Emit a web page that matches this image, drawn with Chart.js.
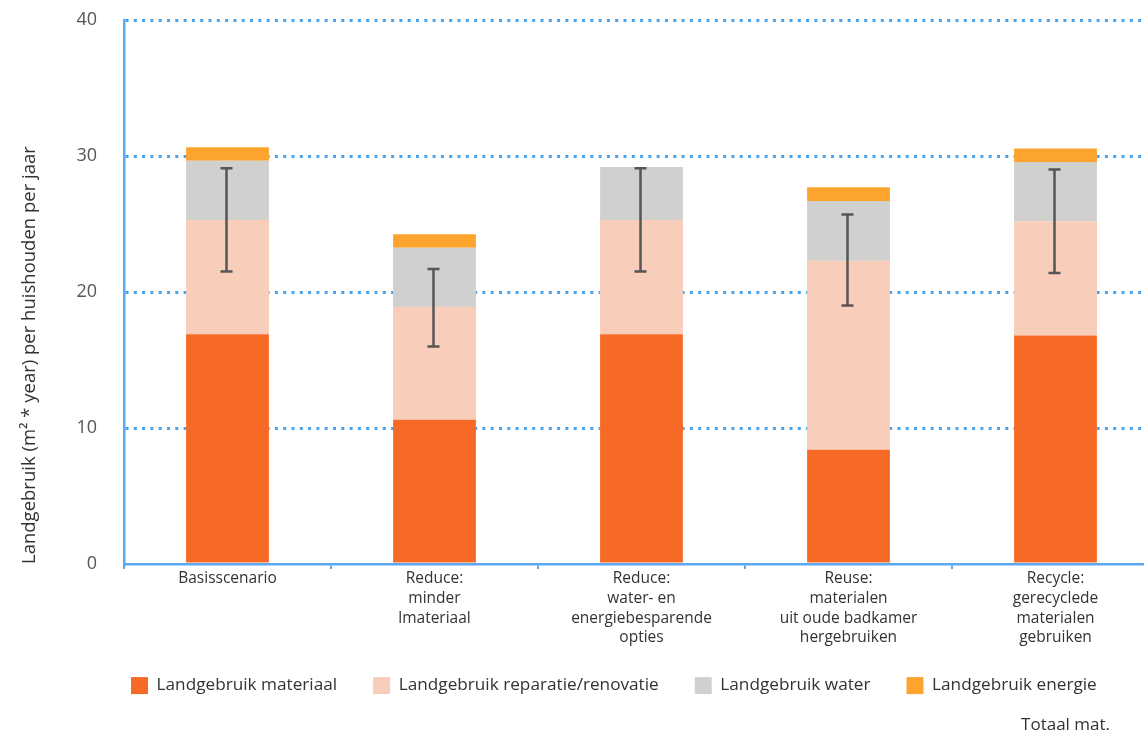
<!DOCTYPE html>
<html><head><meta charset="utf-8">
<script src="https://cdn.jsdelivr.net/npm/chart.js@4/dist/chart.umd.min.js"></script>
<style>
html,body{margin:0;padding:0;overflow:hidden;background:#fff;}
#wrap{position:relative;width:1159px;height:735px;}
</style></head><body>
<div id="wrap"><canvas id="c"></canvas></div>
<script>
const categories = [
  ['Basisscenario'],
  ['Reduce:', 'minder', 'lmateriaal'],
  ['Reduce:', 'water- en', 'energiebesparende', 'opties'],
  ['Reuse:', 'materialen', 'uit oude badkamer', 'hergebruiken'],
  ['Recycle:', 'gerecyclede', 'materialen', 'gebruiken']
];
const seriesNames = ['Landgebruik materiaal', 'Landgebruik reparatie/renovatie', 'Landgebruik water', 'Landgebruik energie'];
const materiaal = [16.9, 10.6, 16.9, 8.4, 16.8];
const reparatie = [8.4, 8.3, 8.4, 13.9, 8.4];
const water = [4.35, 4.35, 3.9, 4.4, 4.35];
const energie = [1.0, 1.0, 0, 1.0, 1.0];
const errLow = [21.5, 16.0, 21.5, 19.0, 21.4];
const errHigh = [29.1, 21.7, 29.1, 25.7, 29.0];
const yTicks = [0, 10, 20, 30, 40];
const yTitle = 'Landgebruik (m² * year) per huishouden per jaar';
const footNote = 'Totaal mat.';

const colors = ['#f76a26', '#f8cdb9', '#d0d0cf', '#fda42e'];
const axisBlue = '#5aa9ee';
const gridBlue = '#48a2ec';
const FONT = 'Open Sans';
const LEGEND_PAD = 36;

const errorBars = {
  id: 'errorBars',
  afterDatasetsDraw(chart) {
    const {ctx, scales: {x, y}} = chart;
    ctx.save();
    ctx.strokeStyle = '#555';
    ctx.lineWidth = 2.5;
    errLow.forEach((lo, i) => {
      const px = x.getPixelForValue(i) - 1;
      const yl = y.getPixelForValue(lo), yh = y.getPixelForValue(errHigh[i]);
      ctx.beginPath();
      ctx.moveTo(px, yl); ctx.lineTo(px, yh);
      ctx.moveTo(px - 6, yl); ctx.lineTo(px + 6, yl);
      ctx.moveTo(px - 6, yh); ctx.lineTo(px + 6, yh);
      ctx.stroke();
    });
    ctx.restore();
  }
};

const placeBoxes = {
  id: 'placeBoxes',
  afterLayout(chart) {
    const lg = chart.legend;
    if (lg) {
      const w = lg.right - lg.left, h = lg.bottom - lg.top;
      lg.left = 131 - LEGEND_PAD; lg.right = lg.left + w;
      lg.top = 677 - LEGEND_PAD; lg.bottom = lg.top + h;
    }
    chart.boxes.forEach(b => {
      if (b.options && b.options.text === footNote) { b.right = 1110; b.width = b.right - b.left; }
    });
  }
};

const datasets = [materiaal, reparatie, water, energie].map((d, i) => ({
  label: seriesNames[i], data: d, backgroundColor: colors[i], borderWidth: 0,
  barPercentage: 0.4, categoryPercentage: 1.0
}));

new Chart(document.getElementById('c'), {
  type: 'bar',
  data: { labels: categories, datasets },
  plugins: [errorBars, placeBoxes],
  options: {
    responsive: true, maintainAspectRatio: false, animation: false,
    layout: { padding: { top: 20, left: 0, right: 0, bottom: 0 } },
    plugins: {
      tooltip: { enabled: false },
      legend: {
        position: 'bottom', align: 'start', maxHeight: 55,
        labels: { boxWidth: 17, boxHeight: 17, padding: LEGEND_PAD, color: '#333', font: { family: FONT, size: 17.2 } }
      },
      subtitle: {
        display: true, text: footNote, position: 'bottom', align: 'end', color: '#333',
        font: { family: FONT, size: 17 }, padding: { top: 10.6, bottom: 0 }
      }
    },
    scales: {
      x: {
        stacked: true,
        afterFit: s => { s.height = 85; },
        grid: { display: true, drawOnChartArea: false, drawTicks: true, tickLength: 5, color: axisBlue, lineWidth: 2 },
        border: { display: true, color: axisBlue, width: 2.5 },
        ticks: { color: '#333', padding: 0, maxRotation: 0, autoSkip: false, font: { family: FONT, size: 15.5, lineHeight: 1.27 } }
      },
      y: {
        stacked: true, min: 0, max: 40,
        afterFit: s => { s.width = 124; s.paddingTop = 4; s.paddingBottom = 4; },
        afterBuildTicks: s => { s.ticks = yTicks.map(v => ({ value: v })); },
        grid: {
          display: true, drawTicks: false, lineWidth: 3,
          color: c => (c.tick && c.tick.value === 0) ? 'rgba(0,0,0,0)' : gridBlue
        },
        border: { display: true, color: axisBlue, width: 2.5, dash: [3, 5.3] },
        ticks: { color: '#555', padding: 27, font: { family: FONT, size: 18 } },
        title: {
          display: true, text: yTitle, align: 'start', color: '#333',
          font: { family: FONT, size: 18.5 }, padding: { top: 19, bottom: 0 }
        }
      }
    }
  }
});
</script>
</body></html>
